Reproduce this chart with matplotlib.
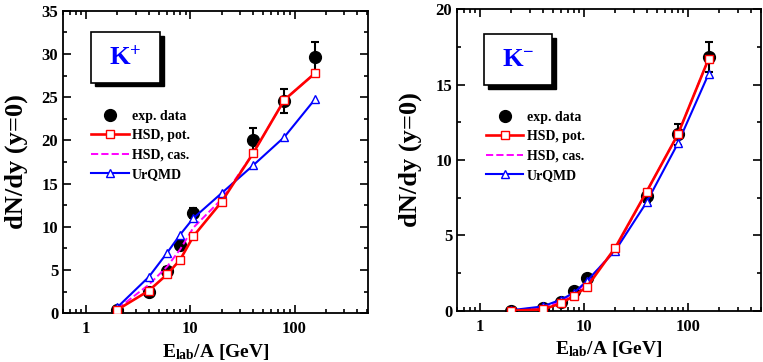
import matplotlib
matplotlib.use('Agg')
import matplotlib.pyplot as plt
from matplotlib.lines import Line2D
from matplotlib.patches import Rectangle
from matplotlib.ticker import MultipleLocator, LogLocator, NullFormatter, FixedLocator, FixedFormatter

plt.rcParams['font.family'] = ['Liberation Serif', 'DejaVu Serif']
plt.rcParams['font.weight'] = 'bold'
plt.rcParams['mathtext.fontset'] = 'custom'
plt.rcParams['mathtext.rm'] = 'Liberation Serif:bold'
plt.rcParams['mathtext.bf'] = 'Liberation Serif:bold'
plt.rcParams['mathtext.it'] = 'Liberation Serif:bold'

# beam energies [GeV/A]
e_exp = [2, 4, 6, 8, 10.7, 40, 80, 158]
e_model = [2, 4, 6, 8, 10.7, 20, 40, 80, 158]

# K+ midrapidity yields
kp_exp = [0.4, 2.4, 4.9, 7.9, 11.6, 20.1, 24.6, 29.6]
kp_err = [0.1, 0.3, 0.4, 0.5, 0.6, 1.3, 1.4, 1.8]
kp_hsd_pot = [0.4, 2.6, 4.5, 6.2, 8.9, 12.9, 18.5, 24.7, 27.8]
kp_hsd_cas = [0.5, 3.3, 5.4, 7.4, 9.9, 13.2, 18.5, 24.7, 27.8]
kp_urqmd = [0.7, 4.2, 7.0, 9.1, 11.0, 13.9, 17.1, 20.4, 24.8]

# K- midrapidity yields
km_exp = [0.02, 0.2, 0.6, 1.3, 2.2, 7.6, 11.7, 16.8]
km_err = [0.01, 0.03, 0.05, 0.1, 0.15, 0.4, 0.7, 1.0]
km_hsd_pot = [0.02, 0.1, 0.5, 1.0, 1.6, 4.2, 7.9, 11.7, 16.7]
km_hsd_cas = [0.03, 0.25, 0.6, 1.15, 1.9, 4.1, 7.9, 11.7, 16.7]
km_urqmd = [0.05, 0.3, 0.75, 1.2, 2.0, 4.0, 7.2, 11.1, 15.7]


def draw_panel(ax, exp, err, pot, cas, urq, ymax, label, box, leg_anchor):
    ax.errorbar(e_exp, exp, yerr=err, fmt='o', color='black', ms=8.5,
                elinewidth=1.5, capsize=3, capthick=1.5, zorder=2)
    h_pot, = ax.plot(e_model, pot, '-s', color='red', lw=1.9, ms=5.5, mfc='white',
                     mec='red', mew=1.0, zorder=4)
    h_cas, = ax.plot(e_model, cas, '--', color='magenta', lw=1.4, zorder=3)
    h_urq, = ax.plot(e_model, urq, '-^', color='blue', lw=1.5, ms=6, mfc='white',
                     mec='blue', mew=1.0, zorder=3)
    h_exp = Line2D([], [], ls='none', marker='o', color='black', ms=8.5)

    ax.set_xscale('log')
    ax.set_xlim(0.6, 510)
    ax.set_ylim(0, ymax)
    ax.xaxis.set_major_locator(FixedLocator([1, 10, 100]))
    ax.xaxis.set_major_formatter(FixedFormatter(['1', '10', '100']))
    ax.xaxis.set_minor_locator(LogLocator(base=10, subs=range(2, 10)))
    ax.xaxis.set_minor_formatter(NullFormatter())
    ax.yaxis.set_major_locator(MultipleLocator(5))
    ax.yaxis.set_minor_locator(MultipleLocator(2.5))
    ax.tick_params(which='both', direction='in', top=True, right=True, width=1.2)
    ax.tick_params(which='major', length=6)
    ax.tick_params(which='minor', length=3)
    ax.tick_params(axis='x', labelsize=12, pad=6)
    ax.tick_params(axis='y', labelsize=12)
    for s in ax.spines.values():
        s.set_linewidth(1.3)

    ax.set_xlabel(r'E$_{\rm lab}$/A [GeV]', fontsize=14, fontweight='bold', labelpad=3)
    ax.set_ylabel('dN/dy (y=0)', fontsize=19, fontweight='bold', labelpad=10)

    # label box with shadow
    x0, y0, w, h = box
    ax.add_patch(Rectangle((x0 + 0.012, y0 - 0.012), w, h, transform=ax.transAxes,
                           facecolor='black', edgecolor='black', zorder=5, clip_on=False))
    ax.add_patch(Rectangle((x0, y0), w, h, transform=ax.transAxes,
                           facecolor='white', edgecolor='black', lw=1.2, zorder=6, clip_on=False))
    ax.text(x0 + w / 2, y0 + h / 2, label, transform=ax.transAxes, ha='center', va='center',
            color='blue', fontsize=19, fontweight='bold', zorder=7)

    leg = ax.legend([h_exp, h_pot, h_cas, h_urq],
                    ['exp. data', 'HSD, pot.', 'HSD, cas.', 'UrQMD'],
                    loc='upper left', bbox_to_anchor=leg_anchor, frameon=False,
                    fontsize=10, handlelength=2.7, handletextpad=0.25,
                    labelspacing=0.45, borderpad=0, borderaxespad=0)
    for t in leg.get_texts():
        t.set_fontweight('bold')


fig = plt.figure(figsize=(7.63, 3.62), dpi=100)
ax1 = fig.add_axes([0.0826, 0.135, 0.400, 0.835])
ax2 = fig.add_axes([0.599, 0.141, 0.399, 0.834])

draw_panel(ax1, kp_exp, kp_err, kp_hsd_pot, kp_hsd_cas, kp_urqmd, 35,
           r'K$^{+}$', (0.092, 0.762, 0.226, 0.168), (0.092, 0.672))
draw_panel(ax2, km_exp, km_err, km_hsd_pot, km_hsd_cas, km_urqmd, 20,
           r'K$^{-}$', (0.089, 0.748, 0.223, 0.169), (0.095, 0.662))

fig.savefig('out.png', dpi=100)
